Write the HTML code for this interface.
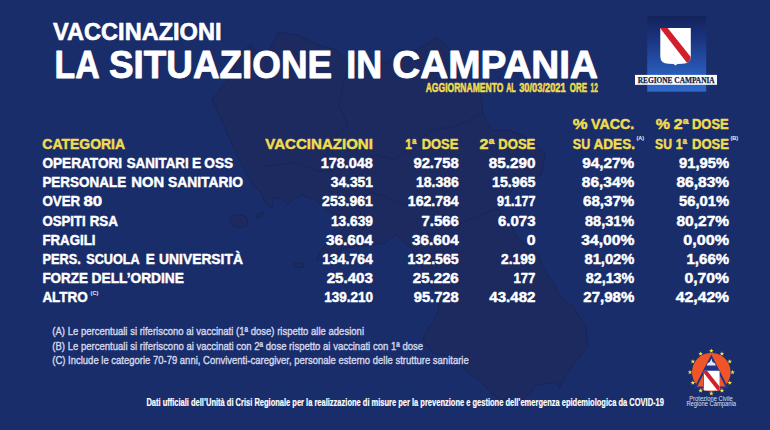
<!DOCTYPE html>
<html lang="it"><head><meta charset="utf-8"><title>Vaccinazioni - La situazione in Campania</title>
<style>
html,body{margin:0;padding:0;background:#1a2d6b;}
body{width:770px;height:430px;overflow:hidden;}
svg{display:block;font-family:"Liberation Sans",sans-serif;}
</style></head><body>
<svg width="770" height="430" viewBox="0 0 770 430">
<rect width="770" height="430" fill="#1a2d6b"/>
<g fill="#1c2a60" stroke="#182559" stroke-width="1" stroke-linejoin="round"><path d="M211.9,99.0 L219.0,115.7 L225.1,127.9 L233.4,147.5 L243.0,167.1 L252.7,184.2 L261.0,192.8 L265.6,203.8 L272.0,207.5 L273.0,198.9 L278.5,197.7 L287.7,203.8 L295.0,198.9 L302.4,195.3 L317.1,201.4 L330.0,211.2 L339.2,216.1 L344.7,228.3 L333.7,238.2 L324.5,245.5 L316.2,260.2 L330.0,257.7 L344.7,247.9 L366.8,245.5 L385.2,243.0 L396.2,234.5 L412.8,250.4 L429.4,282.2 L438.6,301.8 L437.6,314.1 L429.4,326.3 L422.9,339.8 L433.0,353.3 L445.9,355.7 L462.5,365.5 L468.0,372.9 L482.7,382.7 L491.0,393.7 L501.1,399.8 L514.0,401.1 L523.2,399.8 L536.1,385.1 L556.3,382.7 L559.1,388.8 L565.5,375.3 L578.4,358.2 L587.6,345.9 L585.8,326.3 L572.9,306.7 L560.0,296.9 L554.5,284.7 L541.6,265.1 L537.9,252.8 L526.9,245.5 L517.7,238.2 L510.3,223.4 L497.4,208.7 L506.6,198.9 L514.0,186.7 L526.9,181.8 L541.6,174.4 L545.3,154.8 L532.4,140.1 L510.3,130.3 L491.9,130.3 L482.7,113.2 L480.9,93.6 L464.3,81.3 L462.5,61.7 L449.6,49.5 L436.7,37.2 L425.7,44.6 L412.8,51.9 L399.9,49.5 L388.9,61.7 L366.8,64.2 L348.4,61.7 L335.5,49.5 L317.1,44.6 L296.9,34.8 L278.5,32.3 L271.1,47.0 L261.9,59.3 L250.9,44.6 L238.0,54.4 L232.5,74.0 L225.1,83.8Z"/><ellipse cx="238.9" cy="221.0" rx="9" ry="6.5" transform="rotate(5 238.9 221.0)"/><ellipse cx="260.1" cy="214.9" rx="4" ry="2" transform="rotate(-35 260.1 214.9)"/><ellipse cx="298.7" cy="265.1" rx="5" ry="2.5" transform="rotate(10 298.7 265.1)"/><g fill="none"><path d="M261.9,167.1 L293.2,162.2 L320.8,172.0 L348.4,167.1 L370.5,191.6 L357.6,208.7 L366.8,223.4 L357.6,238.2 L344.7,243.0"/><path d="M320.8,172.0 L330.0,142.6 L348.4,125.4 L339.2,105.8 L348.4,61.7"/><path d="M348.4,167.1 L376.0,154.8 L394.4,159.8 L431.2,130.3 L458.8,125.4 L482.7,113.2"/><path d="M370.5,191.6 L403.6,203.8 L431.2,208.7 L458.8,223.4 L477.2,216.1 L497.4,208.7"/></g></g>
<text x="53.1" y="40.2" font-size="23.2" fill="#ffffff" font-weight="bold" textLength="168.4" lengthAdjust="spacingAndGlyphs" stroke="#ffffff" stroke-width="0.6" stroke-linejoin="round">VACCINAZIONI</text>
<text x="54.5" y="77.5" font-size="38.3" fill="#ffffff" font-weight="bold" textLength="45.1" lengthAdjust="spacingAndGlyphs" stroke="#ffffff" stroke-width="0.9" stroke-linejoin="round">LA</text>
<text x="109.0" y="77.5" font-size="38.3" fill="#ffffff" font-weight="bold" textLength="223.2" lengthAdjust="spacingAndGlyphs" stroke="#ffffff" stroke-width="0.9" stroke-linejoin="round">SITUAZIONE</text>
<text x="346.2" y="77.5" font-size="38.3" fill="#ffffff" font-weight="bold" textLength="35.9" lengthAdjust="spacingAndGlyphs" stroke="#ffffff" stroke-width="0.9" stroke-linejoin="round">IN</text>
<text x="392.2" y="77.5" font-size="38.3" fill="#ffffff" font-weight="bold" textLength="205.9" lengthAdjust="spacingAndGlyphs" stroke="#ffffff" stroke-width="0.9" stroke-linejoin="round">CAMPANIA</text>
<text x="425.7" y="92.4" font-size="12.0" fill="#f0dd4e" font-weight="bold" textLength="77.7" lengthAdjust="spacingAndGlyphs" stroke="#f0dd4e" stroke-width="0.55" stroke-linejoin="round">AGGIORNAMENTO</text>
<text x="506.2" y="92.4" font-size="12.0" fill="#f0dd4e" font-weight="bold" textLength="9.5" lengthAdjust="spacingAndGlyphs" stroke="#f0dd4e" stroke-width="0.55" stroke-linejoin="round">AL</text>
<text x="519.2" y="92.4" font-size="12.0" fill="#f0dd4e" font-weight="bold" textLength="46.5" lengthAdjust="spacingAndGlyphs" stroke="#f0dd4e" stroke-width="0.55" stroke-linejoin="round">30/03/2021</text>
<text x="569.8" y="92.4" font-size="12.0" fill="#f0dd4e" font-weight="bold" textLength="17.3" lengthAdjust="spacingAndGlyphs" stroke="#f0dd4e" stroke-width="0.55" stroke-linejoin="round">ORE</text>
<text x="590.6" y="92.4" font-size="12.0" fill="#f0dd4e" font-weight="bold" textLength="7.2" lengthAdjust="spacingAndGlyphs" stroke="#f0dd4e" stroke-width="0.55" stroke-linejoin="round">12</text>
<text x="42.3" y="148.5" font-size="14.1" fill="#f0dd4e" font-weight="bold" textLength="82.8" lengthAdjust="spacingAndGlyphs" stroke="#f0dd4e" stroke-width="0.45" stroke-linejoin="round">CATEGORIA</text>
<text x="265.3" y="148.5" font-size="14.1" fill="#f0dd4e" font-weight="bold" textLength="107.6" lengthAdjust="spacingAndGlyphs" stroke="#f0dd4e" stroke-width="0.45" stroke-linejoin="round">VACCINAZIONI</text>
<text x="405.3" y="148.5" font-size="14.1" fill="#f0dd4e" font-weight="bold" textLength="11.1" lengthAdjust="spacingAndGlyphs" stroke="#f0dd4e" stroke-width="0.45" stroke-linejoin="round">1ª</text>
<text x="421.7" y="148.5" font-size="14.1" fill="#f0dd4e" font-weight="bold" textLength="36.7" lengthAdjust="spacingAndGlyphs" stroke="#f0dd4e" stroke-width="0.45" stroke-linejoin="round">DOSE</text>
<text x="479.6" y="148.5" font-size="14.1" fill="#f0dd4e" font-weight="bold" textLength="14.8" lengthAdjust="spacingAndGlyphs" stroke="#f0dd4e" stroke-width="0.45" stroke-linejoin="round">2ª</text>
<text x="498.3" y="148.5" font-size="14.1" fill="#f0dd4e" font-weight="bold" textLength="37.0" lengthAdjust="spacingAndGlyphs" stroke="#f0dd4e" stroke-width="0.45" stroke-linejoin="round">DOSE</text>
<text x="572.8" y="129.0" font-size="14.1" fill="#f0dd4e" font-weight="bold" textLength="14.8" lengthAdjust="spacingAndGlyphs" stroke="#f0dd4e" stroke-width="0.45" stroke-linejoin="round">%</text>
<text x="591.0" y="129.0" font-size="14.1" fill="#f0dd4e" font-weight="bold" textLength="43.3" lengthAdjust="spacingAndGlyphs" stroke="#f0dd4e" stroke-width="0.45" stroke-linejoin="round">VACC.</text>
<text x="572.8" y="148.5" font-size="14.1" fill="#f0dd4e" font-weight="bold" textLength="17.4" lengthAdjust="spacingAndGlyphs" stroke="#f0dd4e" stroke-width="0.45" stroke-linejoin="round">SU</text>
<text x="593.5" y="148.5" font-size="14.1" fill="#f0dd4e" font-weight="bold" textLength="41.5" lengthAdjust="spacingAndGlyphs" stroke="#f0dd4e" stroke-width="0.45" stroke-linejoin="round">ADES.</text>
<text x="636.4" y="139.9" font-size="5.6" fill="#eef0f8" font-weight="bold" textLength="7.6" lengthAdjust="spacingAndGlyphs">(A)</text>
<text x="655.8" y="129.0" font-size="14.1" fill="#f0dd4e" font-weight="bold" textLength="14.2" lengthAdjust="spacingAndGlyphs" stroke="#f0dd4e" stroke-width="0.45" stroke-linejoin="round">%</text>
<text x="673.8" y="129.0" font-size="14.1" fill="#f0dd4e" font-weight="bold" textLength="14.8" lengthAdjust="spacingAndGlyphs" stroke="#f0dd4e" stroke-width="0.45" stroke-linejoin="round">2ª</text>
<text x="692.0" y="129.0" font-size="14.1" fill="#f0dd4e" font-weight="bold" textLength="36.7" lengthAdjust="spacingAndGlyphs" stroke="#f0dd4e" stroke-width="0.45" stroke-linejoin="round">DOSE</text>
<text x="655.1" y="148.5" font-size="14.1" fill="#f0dd4e" font-weight="bold" textLength="16.9" lengthAdjust="spacingAndGlyphs" stroke="#f0dd4e" stroke-width="0.45" stroke-linejoin="round">SU</text>
<text x="675.8" y="148.5" font-size="14.1" fill="#f0dd4e" font-weight="bold" textLength="11.2" lengthAdjust="spacingAndGlyphs" stroke="#f0dd4e" stroke-width="0.45" stroke-linejoin="round">1ª</text>
<text x="692.0" y="148.5" font-size="14.1" fill="#f0dd4e" font-weight="bold" textLength="37.0" lengthAdjust="spacingAndGlyphs" stroke="#f0dd4e" stroke-width="0.45" stroke-linejoin="round">DOSE</text>
<text x="730.4" y="139.9" font-size="5.6" fill="#eef0f8" font-weight="bold" textLength="7.7" lengthAdjust="spacingAndGlyphs">(B)</text>
<text x="42.4" y="168.0" font-size="14.1" fill="#ffffff" font-weight="bold" textLength="79.7" lengthAdjust="spacingAndGlyphs" stroke="#ffffff" stroke-width="0.45" stroke-linejoin="round">OPERATORI</text>
<text x="126.7" y="168.0" font-size="14.1" fill="#ffffff" font-weight="bold" textLength="62.0" lengthAdjust="spacingAndGlyphs" stroke="#ffffff" stroke-width="0.45" stroke-linejoin="round">SANITARI</text>
<text x="192.0" y="168.0" font-size="14.1" fill="#ffffff" font-weight="bold" textLength="9.2" lengthAdjust="spacingAndGlyphs" stroke="#ffffff" stroke-width="0.45" stroke-linejoin="round">E</text>
<text x="204.3" y="168.0" font-size="14.1" fill="#ffffff" font-weight="bold" textLength="28.8" lengthAdjust="spacingAndGlyphs" stroke="#ffffff" stroke-width="0.45" stroke-linejoin="round">OSS</text>
<text x="320.8" y="168.0" font-size="14.1" fill="#ffffff" font-weight="bold" textLength="52.1" lengthAdjust="spacingAndGlyphs" stroke="#ffffff" stroke-width="0.45" stroke-linejoin="round">178.048</text>
<text x="413.4" y="168.0" font-size="14.1" fill="#ffffff" font-weight="bold" textLength="45.3" lengthAdjust="spacingAndGlyphs" stroke="#ffffff" stroke-width="0.45" stroke-linejoin="round">92.758</text>
<text x="488.8" y="168.0" font-size="14.1" fill="#ffffff" font-weight="bold" textLength="46.6" lengthAdjust="spacingAndGlyphs" stroke="#ffffff" stroke-width="0.45" stroke-linejoin="round">85.290</text>
<text x="582.2" y="168.0" font-size="14.1" fill="#ffffff" font-weight="bold" textLength="52.1" lengthAdjust="spacingAndGlyphs" stroke="#ffffff" stroke-width="0.45" stroke-linejoin="round">94,27%</text>
<text x="679.0" y="168.0" font-size="14.1" fill="#ffffff" font-weight="bold" textLength="50.1" lengthAdjust="spacingAndGlyphs" stroke="#ffffff" stroke-width="0.45" stroke-linejoin="round">91,95%</text>
<text x="42.4" y="187.2" font-size="14.1" fill="#ffffff" font-weight="bold" textLength="83.8" lengthAdjust="spacingAndGlyphs" stroke="#ffffff" stroke-width="0.45" stroke-linejoin="round">PERSONALE</text>
<text x="131.3" y="187.2" font-size="14.1" fill="#ffffff" font-weight="bold" textLength="32.8" lengthAdjust="spacingAndGlyphs" stroke="#ffffff" stroke-width="0.45" stroke-linejoin="round">NON</text>
<text x="168.0" y="187.2" font-size="14.1" fill="#ffffff" font-weight="bold" textLength="75.0" lengthAdjust="spacingAndGlyphs" stroke="#ffffff" stroke-width="0.45" stroke-linejoin="round">SANITARIO</text>
<text x="330.8" y="187.2" font-size="14.1" fill="#ffffff" font-weight="bold" textLength="42.1" lengthAdjust="spacingAndGlyphs" stroke="#ffffff" stroke-width="0.45" stroke-linejoin="round">34.351</text>
<text x="416.1" y="187.2" font-size="14.1" fill="#ffffff" font-weight="bold" textLength="42.6" lengthAdjust="spacingAndGlyphs" stroke="#ffffff" stroke-width="0.45" stroke-linejoin="round">18.386</text>
<text x="492.0" y="187.2" font-size="14.1" fill="#ffffff" font-weight="bold" textLength="43.5" lengthAdjust="spacingAndGlyphs" stroke="#ffffff" stroke-width="0.45" stroke-linejoin="round">15.965</text>
<text x="581.8" y="187.2" font-size="14.1" fill="#ffffff" font-weight="bold" textLength="52.5" lengthAdjust="spacingAndGlyphs" stroke="#ffffff" stroke-width="0.45" stroke-linejoin="round">86,34%</text>
<text x="676.5" y="187.2" font-size="14.1" fill="#ffffff" font-weight="bold" textLength="52.6" lengthAdjust="spacingAndGlyphs" stroke="#ffffff" stroke-width="0.45" stroke-linejoin="round">86,83%</text>
<text x="42.4" y="206.4" font-size="14.1" fill="#ffffff" font-weight="bold" textLength="37.8" lengthAdjust="spacingAndGlyphs" stroke="#ffffff" stroke-width="0.45" stroke-linejoin="round">OVER</text>
<text x="83.4" y="206.4" font-size="14.1" fill="#ffffff" font-weight="bold" textLength="18.7" lengthAdjust="spacingAndGlyphs" stroke="#ffffff" stroke-width="0.45" stroke-linejoin="round">80</text>
<text x="322.1" y="206.4" font-size="14.1" fill="#ffffff" font-weight="bold" textLength="50.8" lengthAdjust="spacingAndGlyphs" stroke="#ffffff" stroke-width="0.45" stroke-linejoin="round">253.961</text>
<text x="407.8" y="206.4" font-size="14.1" fill="#ffffff" font-weight="bold" textLength="50.9" lengthAdjust="spacingAndGlyphs" stroke="#ffffff" stroke-width="0.45" stroke-linejoin="round">162.784</text>
<text x="497.0" y="206.4" font-size="14.1" fill="#ffffff" font-weight="bold" textLength="38.5" lengthAdjust="spacingAndGlyphs" stroke="#ffffff" stroke-width="0.45" stroke-linejoin="round">91.177</text>
<text x="583.0" y="206.4" font-size="14.1" fill="#ffffff" font-weight="bold" textLength="51.3" lengthAdjust="spacingAndGlyphs" stroke="#ffffff" stroke-width="0.45" stroke-linejoin="round">68,37%</text>
<text x="679.0" y="206.4" font-size="14.1" fill="#ffffff" font-weight="bold" textLength="50.1" lengthAdjust="spacingAndGlyphs" stroke="#ffffff" stroke-width="0.45" stroke-linejoin="round">56,01%</text>
<text x="42.4" y="225.6" font-size="14.1" fill="#ffffff" font-weight="bold" textLength="43.3" lengthAdjust="spacingAndGlyphs" stroke="#ffffff" stroke-width="0.45" stroke-linejoin="round">OSPITI</text>
<text x="89.7" y="225.6" font-size="14.1" fill="#ffffff" font-weight="bold" textLength="28.3" lengthAdjust="spacingAndGlyphs" stroke="#ffffff" stroke-width="0.45" stroke-linejoin="round">RSA</text>
<text x="331.0" y="225.6" font-size="14.1" fill="#ffffff" font-weight="bold" textLength="41.9" lengthAdjust="spacingAndGlyphs" stroke="#ffffff" stroke-width="0.45" stroke-linejoin="round">13.639</text>
<text x="421.5" y="225.6" font-size="14.1" fill="#ffffff" font-weight="bold" textLength="37.2" lengthAdjust="spacingAndGlyphs" stroke="#ffffff" stroke-width="0.45" stroke-linejoin="round">7.566</text>
<text x="498.0" y="225.6" font-size="14.1" fill="#ffffff" font-weight="bold" textLength="37.5" lengthAdjust="spacingAndGlyphs" stroke="#ffffff" stroke-width="0.45" stroke-linejoin="round">6.073</text>
<text x="585.0" y="225.6" font-size="14.1" fill="#ffffff" font-weight="bold" textLength="49.3" lengthAdjust="spacingAndGlyphs" stroke="#ffffff" stroke-width="0.45" stroke-linejoin="round">88,31%</text>
<text x="676.5" y="225.6" font-size="14.1" fill="#ffffff" font-weight="bold" textLength="52.6" lengthAdjust="spacingAndGlyphs" stroke="#ffffff" stroke-width="0.45" stroke-linejoin="round">80,27%</text>
<text x="42.4" y="244.8" font-size="14.1" fill="#ffffff" font-weight="bold" textLength="53.1" lengthAdjust="spacingAndGlyphs" stroke="#ffffff" stroke-width="0.45" stroke-linejoin="round">FRAGILI</text>
<text x="326.0" y="244.8" font-size="14.1" fill="#ffffff" font-weight="bold" textLength="46.9" lengthAdjust="spacingAndGlyphs" stroke="#ffffff" stroke-width="0.45" stroke-linejoin="round">36.604</text>
<text x="412.0" y="244.8" font-size="14.1" fill="#ffffff" font-weight="bold" textLength="46.7" lengthAdjust="spacingAndGlyphs" stroke="#ffffff" stroke-width="0.45" stroke-linejoin="round">36.604</text>
<text x="526.7" y="244.8" font-size="14.1" fill="#ffffff" font-weight="bold" textLength="8.8" lengthAdjust="spacingAndGlyphs" stroke="#ffffff" stroke-width="0.45" stroke-linejoin="round">0</text>
<text x="581.3" y="244.8" font-size="14.1" fill="#ffffff" font-weight="bold" textLength="53.0" lengthAdjust="spacingAndGlyphs" stroke="#ffffff" stroke-width="0.45" stroke-linejoin="round">34,00%</text>
<text x="683.3" y="244.8" font-size="14.1" fill="#ffffff" font-weight="bold" textLength="45.8" lengthAdjust="spacingAndGlyphs" stroke="#ffffff" stroke-width="0.45" stroke-linejoin="round">0,00%</text>
<text x="42.4" y="264.0" font-size="14.1" fill="#ffffff" font-weight="bold" textLength="38.3" lengthAdjust="spacingAndGlyphs" stroke="#ffffff" stroke-width="0.45" stroke-linejoin="round">PERS.</text>
<text x="86.2" y="264.0" font-size="14.1" fill="#ffffff" font-weight="bold" textLength="53.6" lengthAdjust="spacingAndGlyphs" stroke="#ffffff" stroke-width="0.45" stroke-linejoin="round">SCUOLA</text>
<text x="145.8" y="264.0" font-size="14.1" fill="#ffffff" font-weight="bold" textLength="9.1" lengthAdjust="spacingAndGlyphs" stroke="#ffffff" stroke-width="0.45" stroke-linejoin="round">E</text>
<text x="159.1" y="264.0" font-size="14.1" fill="#ffffff" font-weight="bold" textLength="83.8" lengthAdjust="spacingAndGlyphs" stroke="#ffffff" stroke-width="0.45" stroke-linejoin="round">UNIVERSITÀ</text>
<text x="322.2" y="264.0" font-size="14.1" fill="#ffffff" font-weight="bold" textLength="50.7" lengthAdjust="spacingAndGlyphs" stroke="#ffffff" stroke-width="0.45" stroke-linejoin="round">134.764</text>
<text x="407.5" y="264.0" font-size="14.1" fill="#ffffff" font-weight="bold" textLength="51.2" lengthAdjust="spacingAndGlyphs" stroke="#ffffff" stroke-width="0.45" stroke-linejoin="round">132.565</text>
<text x="501.0" y="264.0" font-size="14.1" fill="#ffffff" font-weight="bold" textLength="34.5" lengthAdjust="spacingAndGlyphs" stroke="#ffffff" stroke-width="0.45" stroke-linejoin="round">2.199</text>
<text x="584.5" y="264.0" font-size="14.1" fill="#ffffff" font-weight="bold" textLength="49.8" lengthAdjust="spacingAndGlyphs" stroke="#ffffff" stroke-width="0.45" stroke-linejoin="round">81,02%</text>
<text x="686.5" y="264.0" font-size="14.1" fill="#ffffff" font-weight="bold" textLength="42.6" lengthAdjust="spacingAndGlyphs" stroke="#ffffff" stroke-width="0.45" stroke-linejoin="round">1,66%</text>
<text x="42.4" y="283.2" font-size="14.1" fill="#ffffff" font-weight="bold" textLength="45.6" lengthAdjust="spacingAndGlyphs" stroke="#ffffff" stroke-width="0.45" stroke-linejoin="round">FORZE</text>
<text x="91.6" y="283.2" font-size="14.1" fill="#ffffff" font-weight="bold" textLength="92.3" lengthAdjust="spacingAndGlyphs" stroke="#ffffff" stroke-width="0.45" stroke-linejoin="round">DELL’ORDINE</text>
<text x="326.7" y="283.2" font-size="14.1" fill="#ffffff" font-weight="bold" textLength="46.2" lengthAdjust="spacingAndGlyphs" stroke="#ffffff" stroke-width="0.45" stroke-linejoin="round">25.403</text>
<text x="412.8" y="283.2" font-size="14.1" fill="#ffffff" font-weight="bold" textLength="45.9" lengthAdjust="spacingAndGlyphs" stroke="#ffffff" stroke-width="0.45" stroke-linejoin="round">25.226</text>
<text x="513.4" y="283.2" font-size="14.1" fill="#ffffff" font-weight="bold" textLength="22.0" lengthAdjust="spacingAndGlyphs" stroke="#ffffff" stroke-width="0.45" stroke-linejoin="round">177</text>
<text x="585.8" y="283.2" font-size="14.1" fill="#ffffff" font-weight="bold" textLength="48.5" lengthAdjust="spacingAndGlyphs" stroke="#ffffff" stroke-width="0.45" stroke-linejoin="round">82,13%</text>
<text x="684.5" y="283.2" font-size="14.1" fill="#ffffff" font-weight="bold" textLength="44.6" lengthAdjust="spacingAndGlyphs" stroke="#ffffff" stroke-width="0.45" stroke-linejoin="round">0,70%</text>
<text x="42.4" y="302.4" font-size="14.1" fill="#ffffff" font-weight="bold" textLength="45.4" lengthAdjust="spacingAndGlyphs" stroke="#ffffff" stroke-width="0.45" stroke-linejoin="round">ALTRO</text>
<text x="324.2" y="302.4" font-size="14.1" fill="#ffffff" font-weight="bold" textLength="48.7" lengthAdjust="spacingAndGlyphs" stroke="#ffffff" stroke-width="0.45" stroke-linejoin="round">139.210</text>
<text x="413.8" y="302.4" font-size="14.1" fill="#ffffff" font-weight="bold" textLength="44.9" lengthAdjust="spacingAndGlyphs" stroke="#ffffff" stroke-width="0.45" stroke-linejoin="round">95.728</text>
<text x="489.3" y="302.4" font-size="14.1" fill="#ffffff" font-weight="bold" textLength="46.1" lengthAdjust="spacingAndGlyphs" stroke="#ffffff" stroke-width="0.45" stroke-linejoin="round">43.482</text>
<text x="583.3" y="302.4" font-size="14.1" fill="#ffffff" font-weight="bold" textLength="51.0" lengthAdjust="spacingAndGlyphs" stroke="#ffffff" stroke-width="0.45" stroke-linejoin="round">27,98%</text>
<text x="675.8" y="302.4" font-size="14.1" fill="#ffffff" font-weight="bold" textLength="53.3" lengthAdjust="spacingAndGlyphs" stroke="#ffffff" stroke-width="0.45" stroke-linejoin="round">42,42%</text>
<text x="90.6" y="295.2" font-size="5.6" fill="#eef0f8" font-weight="bold" textLength="7.7" lengthAdjust="spacingAndGlyphs">(C)</text>
<text x="52.3" y="335.3" font-size="11.7" fill="#d3d7ea" font-weight="normal" textLength="311.7" lengthAdjust="spacingAndGlyphs" stroke="#d3d7ea" stroke-width="0.4" stroke-linejoin="round">(A) Le percentuali si riferiscono ai vaccinati (1ª dose) rispetto alle adesioni</text>
<text x="52.3" y="349.6" font-size="11.7" fill="#d3d7ea" font-weight="normal" textLength="370.8" lengthAdjust="spacingAndGlyphs" stroke="#d3d7ea" stroke-width="0.4" stroke-linejoin="round">(B) Le percentuali si riferiscono ai vaccinati con 2ª dose rispetto ai vaccinati con 1ª dose</text>
<text x="52.3" y="363.9" font-size="11.7" fill="#d3d7ea" font-weight="normal" textLength="416.4" lengthAdjust="spacingAndGlyphs" stroke="#d3d7ea" stroke-width="0.4" stroke-linejoin="round">(C) Include le categorie 70-79 anni, Conviventi-caregiver, personale esterno delle strutture sanitarie</text>
<text x="146.4" y="405.7" font-size="10.4" fill="#ffffff" font-weight="bold" textLength="517.5" lengthAdjust="spacingAndGlyphs" stroke="#ffffff" stroke-width="0.2" stroke-linejoin="round">Dati ufficiali dell’Unità di Crisi Regionale per la realizzazione di misure per la prevenzione e gestione dell’emergenza epidemiologica da COVID-19</text>
<defs><linearGradient id="rcg" x1="0" y1="0" x2="0" y2="1"><stop offset="0" stop-color="#14225a"/><stop offset="0.3" stop-color="#1a3480"/><stop offset="0.8" stop-color="#2a60be"/><stop offset="1" stop-color="#2f68c8"/></linearGradient>
<clipPath id="shc"><path d="M660.8,27.3 L691.3,27.3 L691.3,56 Q691.3,63 683,63.2 L678,63.4 L676,65 L674,63.4 L669,63.2 Q660.8,63 660.8,56 Z"/></clipPath>
<clipPath id="shc2"><rect x="703.8" y="370.7" width="15.8" height="19.7" rx="1"/></clipPath></defs>
<rect x="647.2" y="16" width="59" height="75.7" fill="url(#rcg)"/>
<g transform="translate(-0.5,0.6)"><path d="M660.8,27.3 L691.3,27.3 L691.3,56 Q691.3,63 683,63.2 L678,63.4 L676,65 L674,63.4 L669,63.2 Q660.8,63 660.8,56 Z" fill="#ffffff"/>
<g clip-path="url(#shc)"><path d="M658.5,24.8 L663.5,21.6 L694.5,60.4 L689.5,65 Z" fill="#d0202c"/></g></g>
<rect x="635" y="74.9" width="82" height="9.9" fill="#ffffff"/>
<text x="676.2" y="83" font-family="'Liberation Serif',serif" font-weight="bold" font-size="8.6" fill="#141a40" stroke="#141a40" stroke-width="0.25" text-anchor="middle" textLength="77" lengthAdjust="spacingAndGlyphs">REGIONE CAMPANIA</text>
<circle cx="711.3" cy="372.2" r="19.3" fill="#f0552a"/><path d="M711.3,354.59999999999997 L728.6999999999999,388.4 L693.9,388.4 Z" fill="#20338a"/><path d="M697.0999999999999,386.59999999999997 L703.0999999999999,386.59999999999997 L703.0999999999999,374.9 Z" fill="#f0552a"/><path d="M725.5,386.59999999999997 L719.5,386.59999999999997 L719.5,374.9 Z" fill="#f0552a"/><path d="M711.3,358.4 L712.5,361.9 Q715.5,362.7 715.9,365.59999999999997 L706.6999999999999,365.59999999999997 Q707.0999999999999,362.7 710.0,361.7 Z" fill="#e8e8f4"/><rect x="703.8" y="370.7" width="15.8" height="19.7" rx="1" fill="#ffffff"/><g clip-path="url(#shc2)"><path d="M702,370.8 L705,368.2 L721.5,388.8 L718.5,391.6 Z" fill="#d0202c"/></g><g fill="#f4e04a"><polygon points="711.30,348.50 711.89,350.08 713.58,350.16 712.26,351.21 712.71,352.84 711.30,351.91 709.89,352.84 710.34,351.21 709.02,350.16 710.71,350.08"/><polygon points="721.95,351.35 722.54,352.94 724.23,353.01 722.91,354.07 723.36,355.70 721.95,354.76 720.54,355.70 720.99,354.07 719.67,353.01 721.36,352.94"/><polygon points="729.75,359.15 730.34,360.73 732.03,360.81 730.71,361.86 731.16,363.49 729.75,362.56 728.34,363.49 728.79,361.86 727.46,360.81 729.15,360.73"/><polygon points="732.60,369.80 733.19,371.38 734.88,371.46 733.56,372.51 734.01,374.14 732.60,373.21 731.19,374.14 731.64,372.51 730.32,371.46 732.01,371.38"/><polygon points="729.75,380.45 730.34,382.03 732.03,382.11 730.71,383.16 731.16,384.79 729.75,383.86 728.34,384.79 728.79,383.16 727.46,382.11 729.15,382.03"/><polygon points="721.95,388.25 722.54,389.83 724.23,389.90 722.91,390.96 723.36,392.59 721.95,391.65 720.54,392.59 720.99,390.96 719.67,389.90 721.36,389.83"/><polygon points="711.30,391.10 711.89,392.68 713.58,392.76 712.26,393.81 712.71,395.44 711.30,394.51 709.89,395.44 710.34,393.81 709.02,392.76 710.71,392.68"/><polygon points="700.65,388.25 701.24,389.83 702.93,389.90 701.61,390.96 702.06,392.59 700.65,391.65 699.24,392.59 699.69,390.96 698.37,389.90 700.06,389.83"/><polygon points="692.85,380.45 693.45,382.03 695.14,382.11 693.81,383.16 694.26,384.79 692.85,383.86 691.44,384.79 691.89,383.16 690.57,382.11 692.26,382.03"/><polygon points="690.00,369.80 690.59,371.38 692.28,371.46 690.96,372.51 691.41,374.14 690.00,373.21 688.59,374.14 689.04,372.51 687.72,371.46 689.41,371.38"/><polygon points="692.85,359.15 693.45,360.73 695.14,360.81 693.81,361.86 694.26,363.49 692.85,362.56 691.44,363.49 691.89,361.86 690.57,360.81 692.26,360.73"/><polygon points="700.65,351.35 701.24,352.94 702.93,353.01 701.61,354.07 702.06,355.70 700.65,354.76 699.24,355.70 699.69,354.07 698.37,353.01 700.06,352.94"/></g><text x="711" y="400.6" font-size="6.3" fill="#dde0f3" font-weight="normal" text-anchor="middle" textLength="43.5" lengthAdjust="spacingAndGlyphs">Protezione Civile</text><text x="711.2" y="406.2" font-size="6.3" fill="#dde0f3" font-weight="normal" text-anchor="middle" textLength="49.6" lengthAdjust="spacingAndGlyphs">Regione Campania</text>
</svg>
</body></html>
